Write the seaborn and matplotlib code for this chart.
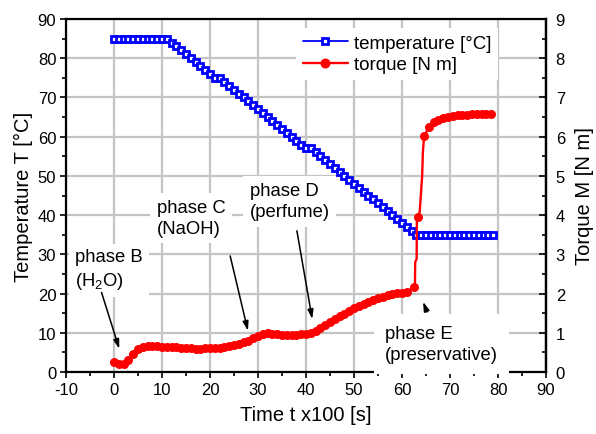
import matplotlib
matplotlib.use("Agg")
import matplotlib.pyplot as plt
from matplotlib.ticker import MultipleLocator
from matplotlib.lines import Line2D
import numpy as np
import pandas as pd
import seaborn as sns

# ---------------- data ----------------
temp_time = [0, 1, 2, 3, 4, 5, 6, 7, 8, 9, 10, 11,
             12, 13, 14, 15, 16, 17, 18, 19, 20, 21, 22, 23, 24, 25, 26, 27,
             28, 29, 30, 31, 32, 33, 34, 35, 36, 37, 38, 39, 40, 41, 42, 43,
             44, 45, 46, 47, 48, 49, 50, 51, 52, 53, 54, 55, 56, 57, 58, 59,
             60, 61, 62, 63, 64, 65, 66, 67, 68, 69, 70, 71, 72, 73, 74, 75,
             76, 77, 78, 79]
temp_value = [85, 85, 85, 85, 85, 85, 85, 85, 85, 85, 85, 85,
              84, 83, 82, 81, 80, 79, 78, 77, 76, 75, 75, 74, 73, 72, 71, 70,
              69, 68, 67, 66, 65, 64, 63, 62, 61, 60, 59, 58, 57, 57, 56, 55,
              54, 53, 52, 51, 50, 49, 48, 47, 46, 45, 44, 43, 42, 41, 40, 39,
              38, 37, 36, 35, 35, 35, 35, 35, 35, 35, 35, 35, 35, 35, 35, 35,
              35, 35, 35, 35]

# torque samples shown with markers
torque_time = [0, 1, 2, 3, 4, 5, 6, 7, 8, 9, 10, 11, 12, 13, 14, 15, 16, 17,
               18, 19, 20, 21, 22, 23, 24, 25, 26, 27, 28, 29, 30, 31, 32, 33,
               34, 35, 36, 37, 38, 39, 40, 41, 42, 43, 44, 45, 46, 47, 48, 49,
               50, 51, 52, 53, 54, 55, 56, 57, 58, 59, 60, 61, 62.4,
               63.4, 64.6, 65.6, 66.6, 67.6, 68.6, 69.6, 70.6, 71.6, 72.6,
               73.6, 74.6, 75.6, 76.6, 77.6, 78.6]
torque_value = [0.25, 0.21, 0.20, 0.30, 0.45, 0.58, 0.64, 0.66, 0.66, 0.66,
                0.65, 0.65, 0.64, 0.63, 0.62, 0.61, 0.60, 0.59, 0.59, 0.60,
                0.60, 0.61, 0.62, 0.64, 0.66, 0.68, 0.71, 0.76, 0.80, 0.86,
                0.93, 0.98, 1.00, 0.98, 0.96, 0.95, 0.95, 0.95, 0.95, 0.96,
                0.97, 1.00, 1.05, 1.12, 1.20, 1.28, 1.35, 1.42, 1.49, 1.56,
                1.62, 1.68, 1.73, 1.78, 1.84, 1.88, 1.92, 1.96, 1.99, 2.01,
                2.02, 2.03, 2.16,
                3.96, 6.01, 6.25, 6.37, 6.43, 6.47, 6.50, 6.52, 6.54, 6.55,
                6.56, 6.57, 6.57, 6.57, 6.57, 6.57]
# extra line-only points of the steep rise (phase E)
jump_time = [62.7, 62.75, 63.05, 63.1, 63.7, 64.2, 64.35]
jump_value = [2.25, 2.80, 2.88, 3.90, 4.10, 5.00, 5.60]

x_ticks = [-10, 0, 10, 20, 30, 40, 50, 60, 70, 80, 90]
y_ticks = [0, 10, 20, 30, 40, 50, 60, 70, 80, 90]
m_ticks = [0, 1, 2, 3, 4, 5, 6, 7, 8, 9]

# ---------------- style ----------------
sns.set_theme(style="white")
plt.rcParams["font.family"] = ["Liberation Sans", "DejaVu Sans"]
plt.rcParams["mathtext.fontset"] = "custom"
plt.rcParams["mathtext.rm"] = "Liberation Sans"
plt.rcParams["mathtext.it"] = "Liberation Sans:italic"
plt.rcParams["axes.unicode_minus"] = False
for k in ["text.color", "axes.labelcolor", "xtick.color", "ytick.color",
          "xtick.labelcolor", "ytick.labelcolor"]:
    plt.rcParams[k] = "black"

BLUE = "#0000ff"
RED = "#ff0000"
GRID = "#c4c4c4"

fig = plt.figure(figsize=(5.96, 4.35), dpi=100)
ax = fig.add_axes([66 / 596, 1 - 373 / 435, 480 / 596, 353 / 435])
ax2 = ax.twinx()

temp_df = pd.DataFrame({"t": temp_time, "T": temp_value})
sns.lineplot(data=temp_df, x="t", y="T", ax=ax, color=BLUE, lw=1.3,
             marker="s", markersize=5.0, markerfacecolor="white",
             markeredgecolor=BLUE, markeredgewidth=2.0,
             estimator=None, sort=False, legend=False)

line_df = pd.DataFrame({"t": torque_time + jump_time,
                        "M": torque_value + jump_value}).sort_values("t")
sns.lineplot(data=line_df, x="t", y="M", ax=ax2, color=RED, lw=1.7,
             estimator=None, sort=False, legend=False, zorder=3)
mark_df = pd.DataFrame({"t": torque_time, "M": torque_value})
sns.scatterplot(data=mark_df, x="t", y="M", ax=ax2, color=RED, s=42,
                linewidth=0, legend=False, zorder=4)

# ---------------- axes ----------------
ax.set_xlim(-10, 90)
ax.set_ylim(0, 90)
ax2.set_ylim(0, 9)
ax.set_xticks(x_ticks)
ax.set_xticklabels([str(v) for v in x_ticks])
ax.set_yticks(y_ticks)
ax2.set_yticks(m_ticks)
ax.xaxis.set_minor_locator(MultipleLocator(5))
ax.yaxis.set_minor_locator(MultipleLocator(5))
ax2.yaxis.set_minor_locator(MultipleLocator(0.5))

ax.set_axisbelow(True)
ax.grid(True, which="major", color=GRID, lw=1.6)

for s in ax.spines.values():
    s.set_color("black")
    s.set_linewidth(1.6)
for k in ["top", "bottom", "left"]:
    ax2.spines[k].set_visible(False)
ax2.spines["right"].set_color("black")
ax2.spines["right"].set_linewidth(1.6)

ax.tick_params(axis="both", which="major", direction="out", length=4.5,
               width=1.2, color="black", labelsize=12, pad=2.5,
               labelcolor="black",
               bottom=True, left=True, right=False, top=False)
ax.tick_params(axis="both", which="minor", direction="out", length=2.6,
               width=1.2, color="black", bottom=True, left=True,
               right=False, top=False)
ax2.tick_params(axis="y", which="major", direction="in", length=5,
                width=1.2, color="black", labelsize=12, pad=7, right=True,
                labelcolor="black")
ax2.tick_params(axis="y", which="minor", direction="in", length=2.6,
                width=1.2, color="black", right=True)

ax.set_xlabel("Time t x100 [s]", fontsize=14.5, labelpad=6, color="black")
ax.set_ylabel("Temperature T [°C]", fontsize=14.5, labelpad=3, color="black")
ax2.set_ylabel("Torque M [N m]", fontsize=14.5, labelpad=7, color="black")

# ---------------- legend ----------------
handles = [
    Line2D([], [], color=BLUE, lw=1.3, marker="s", markersize=5.0,
           markerfacecolor="white", markeredgecolor=BLUE, markeredgewidth=2.0),
    Line2D([], [], color=RED, lw=1.7, marker="o", markersize=7.2,
           markerfacecolor=RED, markeredgewidth=0),
]
leg = ax2.legend(handles, ["temperature [°C]", "torque [N m]"],
                 loc="upper left", bbox_to_anchor=(0.48, 0.975),
                 fontsize=13.5, frameon=True, fancybox=False,
                 framealpha=1, edgecolor="none", facecolor="white",
                 handlelength=2.4, handletextpad=0.3, labelspacing=0.25,
                 borderpad=0.35, borderaxespad=0)
for t in leg.get_texts():
    t.set_color("black")
leg.set_zorder(10)

# ---------------- annotations ----------------
arrow = dict(arrowstyle="-|>,head_length=0.55,head_width=0.17",
             color="black", lw=1.1, mutation_scale=10,
             shrinkA=0, shrinkB=0)

labels = [("phase B\n(H$_2$O)", -8.1, 3.16, 0.35),
          ("phase C\n(NaOH)", 8.9, 4.41, 0.35),
          ("phase D\n(perfume)", 28.3, 4.84, 0.35),
          ("phase E\n(preservative)", 56.5, 1.20, 0.6)]
for txt, x, y, p in labels:
    ax2.text(x, y, txt, ha="left", va="top", fontsize=13.3, color="black",
             linespacing=1.3, zorder=8,
             bbox=dict(boxstyle=f"square,pad={p}", facecolor="white",
                       edgecolor="none"))

arrows = [((-2.6, 2.03), (1.1, 0.59)),
          ((24.2, 2.96), (27.9, 1.05)),
          ((38.1, 3.60), (41.3, 1.35)),
          ((65.2, 1.53), (64.4, 1.79))]
for tail, head in arrows:
    ax2.annotate("", xy=head, xytext=tail, arrowprops=arrow, zorder=9)

fig.savefig("out.png", dpi=100)
